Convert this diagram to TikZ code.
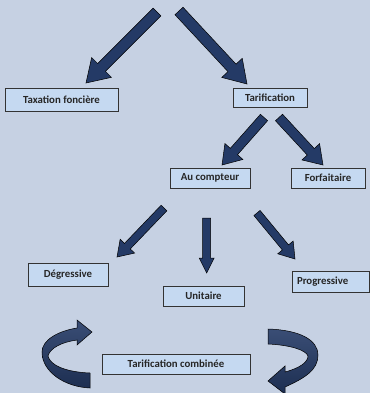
\documentclass[tikz,border=0pt]{standalone}
\usepackage{fontspec}
\setmainfont{Carlito}
\usetikzlibrary{calc, positioning}
\definecolor{bgblue}{HTML}{C6D1E3}
\definecolor{boxblue}{HTML}{C5D9F1}
\definecolor{navy}{HTML}{243A66}
\definecolor{textgray}{HTML}{262626}

% block arrow: tail, tip, half shaft, half head, head length
\newcommand{\blockarrow}[5]{%
  \fill[navy, draw=black, line width=0.5pt]
    ($(#1)!#3!90:(#2)$) -- ($($(#2)!#5!(#1)$)!#3!90:(#2)$)
    -- ($($(#2)!#5!(#1)$)!#4!90:(#2)$) -- (#2)
    -- ($($(#2)!#5!(#1)$)!#4!-90:(#2)$) -- ($($(#2)!#5!(#1)$)!#3!-90:(#2)$)
    -- ($(#1)!#3!-90:(#2)$) -- cycle;}

\begin{document}
\begin{tikzpicture}[x=1pt, y=-1pt, font=\bfseries\fontsize{10.8}{12}\selectfont,
  box/.style={draw=black!80, fill=boxblue, text=textgray, line width=0.8pt, minimum height=20pt, inner sep=0pt},
  curved/.style={draw=black, line width=0.5pt, top color=navy!90!white, bottom color=navy!80!black}]
\fill[bgblue] (0,0) rectangle (370,393);
\useasboundingbox (0,0) rectangle (370,393);

\node[box, minimum width=113pt, minimum height=23pt] (tax) at (61.5,99.5) {Taxation foncière};
\node[box, minimum width=74pt, minimum height=19pt] (tarif) at (270,97.5) {Tarification};
\node[box, minimum width=80pt] (compteur) at (210,178) {Au compteur};
\node[box, minimum width=74pt] (forfait) at (328,178) {Forfaitaire};
\node[box, minimum width=80pt, minimum height=23pt] (degress) at (68,274.5) {Dégressive};
\node[box, minimum width=81pt] (unit) at (203.5,296) {Unitaire};
\node[box, minimum width=77pt, minimum height=21pt, text width=68pt, align=left] (progress) at (331,281.5) {Progressive};
\node[box, minimum width=148pt] (combi) at (176,364) {Tarification combinée};

% tails and tips
\coordinate (t1) at (157,12);  \coordinate (p1) at (86,83);
\coordinate (t2) at (179,11);  \coordinate (p2) at (247,84);
\coordinate (t3) at (264,117.5); \coordinate (p3) at (222,165);
\coordinate (t4) at (279,117.5); \coordinate (p4) at (323,165);
\coordinate (t5) at (164,208); \coordinate (p5) at (117,257);
\coordinate (t6) at (206.7,218); \coordinate (p6) at (206.7,273);
\coordinate (t7) at (257,213); \coordinate (p7) at (295,259);

\blockarrow{t1}{p1}{5.5pt}{14pt}{22pt}
\blockarrow{t2}{p2}{5.5pt}{14pt}{22pt}
\blockarrow{t3}{p3}{4.8pt}{12pt}{18pt}
\blockarrow{t4}{p4}{4.8pt}{12pt}{18pt}
\blockarrow{t5}{p5}{4pt}{10pt}{15pt}
\blockarrow{t6}{p6}{4pt}{7.5pt}{15pt}
\blockarrow{t7}{p7}{4pt}{10pt}{15pt}

% curved arrows round the combined tariff
\path[curved] (90,373) .. controls (65,372) and (50,365) .. (48,356)
  .. controls (50,348) and (62,342) .. (77,340) -- (77,345) -- (92,332) -- (77,320) -- (77,328)
  .. controls (58,331) and (42,340) .. (42,352)
  .. controls (42,372) and (65,387) .. (90,388) -- cycle;
\path[curved] (268,329) .. controls (300,330) and (318,340) .. (318,355)
  .. controls (318,370) and (305,378) .. (285,387) -- (285,394) -- (268,381) -- (285,366) -- (285,372)
  .. controls (300,368) and (308,362) .. (308,356)
  .. controls (306,350) and (290,345) .. (268,344) -- cycle;
\end{tikzpicture}
\end{document}
